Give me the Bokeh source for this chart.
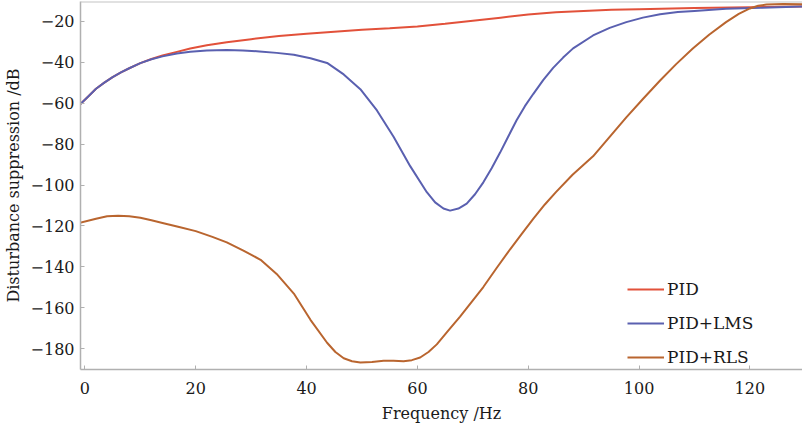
from bokeh.plotting import figure
from bokeh.models import Range1d, Legend, LegendItem, Span, FixedTicker
from bokeh.embed import file_html
from bokeh.resources import INLINE

# ---- data ----
pid_f = [-1, 0.5, 2, 3.5, 5, 6.5, 8, 10, 12, 14, 16.6, 19, 22, 25.6, 30, 35, 40, 45, 50, 55, 60, 65, 70, 75, 80, 85, 90, 95, 100, 110, 120, 130]
pid_db = [-61, -57, -53, -50, -47.3, -45, -43, -40.5, -38.5, -36.8, -35, -33.4, -31.8, -30.3, -28.8, -27.3, -26.2, -25.2, -24.2, -23.5, -22.6, -21.3, -19.8, -18.3, -16.8, -15.7, -15.0, -14.5, -14.2, -13.6, -13.2, -12.8]

lms_f = [-1, 0.5, 2, 3.5, 5, 6.5, 8, 10, 12, 14, 16.6, 19, 22, 25.6, 28.5, 31.5, 34.6, 37.7, 40.7, 43.7, 46.7, 49.7, 52.7, 55.7, 58.7, 61.7, 63.2, 64.7, 65.9, 67.4, 68.9, 70.4, 71.9, 73.4, 74.9, 76.4, 77.9, 79.4, 80.9, 82.7, 84.5, 86.3, 88.1, 91.7, 94.7, 97.7, 100.7, 103.8, 107, 110, 115.7, 122, 130]
lms_db = [-61, -57, -53, -50, -47.3, -45, -43, -40.5, -38.6, -37.2, -35.8, -34.9, -34.3, -34.1, -34.3, -34.8, -35.5, -36.4, -38.1, -40.4, -46, -53.2, -63.6, -76.4, -90.8, -103.5, -108.5, -111.5, -112.5, -111.5, -109.1, -104.5, -98.7, -91.8, -84.3, -76.3, -68.4, -61.5, -55.6, -48.8, -42.8, -37.8, -33.3, -27, -23.3, -20.5, -18.3, -16.6, -15.6, -15, -14, -13.5, -12.8]

rls_f = [-1, 2, 4, 6, 8, 10, 12, 14, 17, 20, 23, 25.6, 28.6, 31.7, 34.6, 37.7, 40.7, 43.7, 45.2, 46.7, 48.2, 49.7, 51.8, 53.9, 55.7, 57.5, 59, 60.5, 62, 63.5, 65.6, 67.7, 69.8, 71.9, 74.3, 76.7, 78.8, 80.9, 83, 85, 88, 91.7, 94.7, 97.7, 100.7, 103.8, 106.7, 109.7, 112.7, 115.7, 118, 120, 121.5, 123, 126, 130]
rls_db = [-118.5, -116.5, -115.3, -115, -115.3, -116, -117.2, -118.5, -120.5, -122.5, -125.3, -128, -132, -136.5, -143.4, -153, -165.8, -177, -181.5, -184.6, -186, -186.6, -186.4, -185.8, -185.8, -186, -185.5, -184.2, -181.5, -177.8, -171, -164.2, -157, -149.8, -140.5, -131.5, -124, -116.5, -109.5, -103.5, -95, -86, -76.5, -67, -58, -49, -41, -33.4, -26.5, -20.5, -16.5, -13.8, -12.5, -11.9, -11.7, -11.8]

x_ticks = [0, 20, 40, 60, 80, 100, 120]
y_ticks = [-20, -40, -60, -80, -100, -120, -140, -160, -180]
series_names = ["PID", "PID+LMS", "PID+RLS"]
series_colors = ["#e2513a", "#5a60b0", "#b9652f"]

FONT = "DejaVu Serif"

p = figure(width=802, height=425, output_backend="svg", toolbar_location=None,
           x_range=Range1d(-0.8, 129.5), y_range=Range1d(-190.06, -10.42),
           min_border_left=78, min_border_right=0, min_border_top=1, min_border_bottom=49)
p.background_fill_color = "white"
p.border_fill_color = "white"
p.outline_line_color = None
p.grid.visible = False

renderers = []
for fx, fy, col in zip([pid_f, lms_f, rls_f], [pid_db, lms_db, rls_db], series_colors):
    r = p.line(fx, fy, line_color=col, line_width=2)
    renderers.append(r)

# top border line
p.add_layout(Span(location=-10.42, dimension="width", line_color="#c4c4c4", line_width=2))

for ax in (p.xaxis[0], p.yaxis[0]):
    ax.axis_line_color = "#b0b0b0"
    ax.axis_line_width = 1.5
    ax.major_tick_line_color = "#b0b0b0"
    ax.major_tick_in = 4
    ax.major_tick_out = 0
    ax.minor_tick_line_color = None
    ax.major_label_text_font = FONT
    ax.major_label_text_font_size = "16px"
    ax.major_label_text_color = "#1a1a1a"
    ax.axis_label_text_font = FONT
    ax.axis_label_text_font_size = "16px"
    ax.axis_label_text_font_style = "normal"
    ax.axis_label_text_color = "#1a1a1a"

p.xaxis[0].ticker = FixedTicker(ticks=x_ticks)
p.yaxis[0].ticker = FixedTicker(ticks=y_ticks)
p.yaxis[0].major_label_overrides = {v: "\u2212" + str(abs(v)) for v in y_ticks}
p.xaxis[0].axis_label = "Frequency /Hz"
p.yaxis[0].axis_label = "Disturbance suppression /dB"
p.xaxis[0].major_label_standoff = 12
p.yaxis[0].major_label_standoff = 6
p.xaxis[0].axis_label_standoff = 7
p.yaxis[0].axis_label_standoff = 5

legend = Legend(items=[LegendItem(label=n, renderers=[r]) for n, r in zip(series_names, renderers)],
                location=(547, 2), border_line_color=None, background_fill_alpha=0,
                padding=0, margin=0, spacing=14, glyph_width=37, glyph_height=20,
                label_height=20, label_standoff=3,
                label_text_font=FONT, label_text_font_size="17px", label_text_color="#1a1a1a")
p.add_layout(legend, "center")

open("out.html", "w").write(file_html(p, INLINE))
